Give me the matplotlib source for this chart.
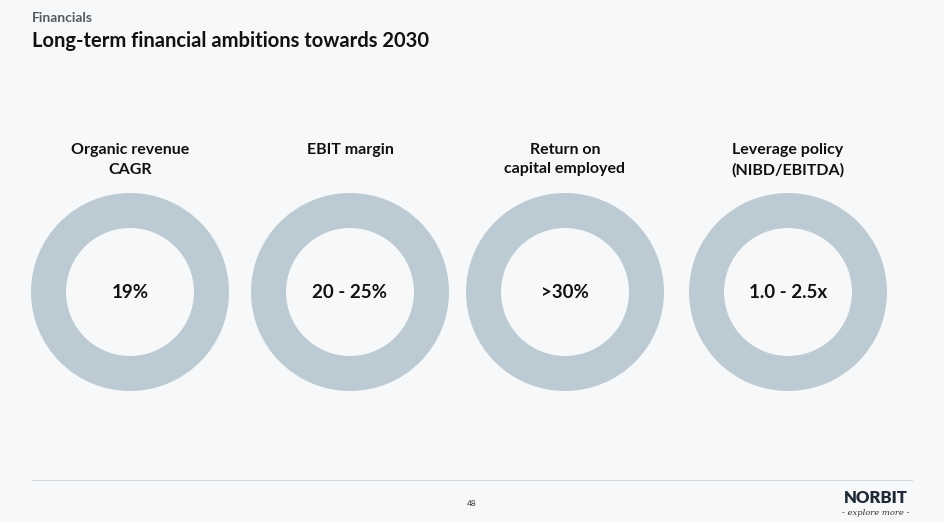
import matplotlib.pyplot as plt
from matplotlib.patches import Wedge

plt.rcParams['font.family'] = ['Lato', 'DejaVu Sans']

labels = ['Organic revenue\nCAGR', 'EBIT margin', 'Return on\ncapital employed', 'Leverage policy\n(NIBD/EBITDA)']
targets = ['19%', '20 - 25%', '>30%', '1.0 - 2.5x']
centers_x = [130, 350, 565, 788]

bg = '#f7f8fa'
ring = '#bccbd3'

fig = plt.figure(figsize=(9.44, 5.22), dpi=100, facecolor=bg)
ax = fig.add_axes([0, 0, 1, 1])
ax.set_xlim(0, 944)
ax.set_ylim(522, 0)
ax.set_aspect('equal')
ax.axis('off')

ax.text(32, 18, 'Financials', fontsize=10, fontweight='bold', color='#555b61', va='center')
ax.text(32, 41, 'Long-term financial ambitions towards 2030', fontsize=14.5,
        fontweight='bold', color='#111111', va='center')

for cx, lab, tgt in zip(centers_x, labels, targets):
    ax.add_patch(Wedge((cx, 292), 99, 0, 360, width=35, facecolor=ring, edgecolor='none'))
    ax.text(cx, 143, lab, fontsize=11.5, fontweight='bold', color='#111111',
            ha='center', va='top', linespacing=1.5)
    ax.text(cx, 293, tgt, fontsize=13.5, fontweight='bold', color='#111111',
            ha='center', va='center')

ax.plot([32, 912], [480, 480], color='#d5d9dd', lw=0.8)
ax.text(472, 503, '48', fontsize=6, color='#333333', ha='center', va='center')
ax.text(876, 498, 'NORBIT', fontsize=12, fontweight='heavy', color='#1f2a36', ha='center', va='center')
ax.text(876, 513, '- explore more -', fontsize=6, style='italic', color='#333333', ha='center', va='center',
        family='DejaVu Serif')

fig.savefig('out.png', dpi=100, facecolor=bg)
